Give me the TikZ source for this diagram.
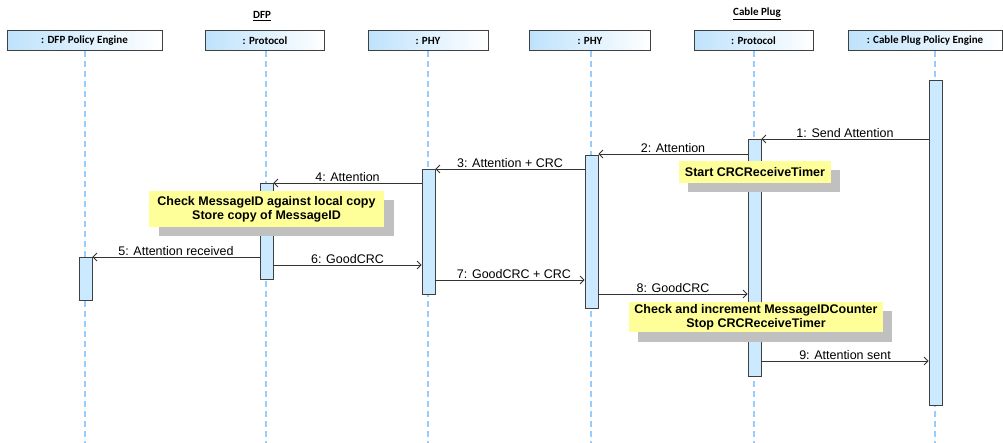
\documentclass[tikz,border=0pt]{standalone}
\usepackage{fontspec}
\setmainfont{Liberation Sans}
\newfontfamily\hdrfont{Carlito}
\usetikzlibrary{arrows.meta,calc}
\definecolor{lifeblue}{RGB}{153,204,255}
\definecolor{barfill}{RGB}{204,234,255}
\definecolor{hdrblue}{RGB}{190,226,252}
\definecolor{noteyellow}{RGB}{255,255,153}
\definecolor{shadowgray}{RGB}{192,192,192}
\tikzset{
  hdr/.style={draw=black!75, line width=0.9pt, left color=hdrblue, right color=white, minimum height=20pt, inner sep=0pt, font=\hdrfont\bfseries\fontsize{11}{13}\selectfont},
  life/.style={lifeblue, line width=1.5pt, dash pattern=on 6pt off 4pt},
  bar/.style={draw=black!75, fill=barfill, line width=0.8pt, minimum width=13pt, inner sep=0pt},
  msg/.style={draw=black!80, line width=0.8pt, -{Straight Barb[length=4pt,width=8pt]}},
  lbl/.style={font=\fontsize{12.5}{14}\selectfont, above, inner sep=1pt},
  notebox/.style={fill=noteyellow, inner sep=0pt, font=\bfseries\fontsize{12.5}{14}\selectfont, align=center},
  shadowbox/.style={fill=shadowgray, inner sep=0pt},
  grp/.style={font=\hdrfont\bfseries\fontsize{11}{13}\selectfont}
}
\begin{document}
\begin{tikzpicture}[x=1pt,y=-1pt]
\useasboundingbox (0,0) rectangle (1003,443);
% group titles
\node[grp] (gdfp) at (262,16) {\underline{DFP}};
\node[grp] (gcable) at (757,14) {\underline{Cable Plug}};
% lifelines
\foreach \n/\x in {a/85,b/266,c/428,d/591,e/754,f/935}{
  \coordinate (top\n) at (\x,51);
  \coordinate (bot\n) at (\x,443);
  \draw[life] (top\n) -- (bot\n);
}
% headers
\node[hdr, minimum width=155pt] (ha) at (84.5,40.5) {: DFP Policy Engine};
\node[hdr, minimum width=119pt] (hb) at (265,40.5) {: Protocol};
\node[hdr, minimum width=120pt] (hc) at (428,40.5) {: PHY};
\node[hdr, minimum width=121pt] (hd) at (590,40.5) {: PHY};
\node[hdr, minimum width=119pt] (he) at (753.5,40.5) {: Protocol};
\node[hdr, minimum width=154pt] (hf) at (925,40.5) {: Cable Plug Policy Engine};
% activation bars
\node[bar, minimum height=325pt] (bf) at (935.5,242.5) {};
\node[bar, minimum height=237pt] (be) at (754.5,257.5) {};
\node[bar, minimum height=153pt] (bd) at (591.5,231.5) {};
\node[bar, minimum height=125pt] (bc) at (428.5,231.5) {};
\node[bar, minimum height=96pt] (bb) at (266.5,231) {};
\node[bar, minimum height=43pt] (ba) at (85.5,278.5) {};
% messages
\draw[msg] (bf.west |- 0,139) -- node[lbl]{1: Send Attention} (be.east |- 0,139);
\draw[msg] (be.west |- 0,154) -- node[lbl]{2: Attention} (bd.east |- 0,154);
\draw[msg] (bd.west |- 0,169) -- node[lbl]{3: Attention + CRC} (bc.east |- 0,169);
\draw[msg] (bc.west |- 0,183) -- node[lbl]{4: Attention} (bb.east |- 0,183);
\draw[msg] (bb.west |- 0,257) -- node[lbl]{5: Attention received} (ba.east |- 0,257);
\draw[msg] (bb.east |- 0,265) -- node[lbl]{6: GoodCRC} (bc.west |- 0,265);
\draw[msg] (bc.east |- 0,280) -- node[lbl, xshift=4pt]{7: GoodCRC + CRC} (bd.west |- 0,280);
\draw[msg] (bd.east |- 0,294) -- node[lbl]{8: GoodCRC} (be.west |- 0,294);
\draw[msg] (be.east |- 0,361) -- node[lbl]{9: Attention sent} (bf.west |- 0,361);
% notes
\node[shadowbox, minimum width=152pt, minimum height=22pt] (s1) at (764,181) {};
\node[notebox, minimum width=152pt, minimum height=22pt] (n1) at (755,172) {Start CRCReceiveTimer};
\node[shadowbox, minimum width=235pt, minimum height=36pt] (s2) at (276,218) {};
\node[notebox, minimum width=235pt, minimum height=36pt] (n2) at (266.5,209) {Check MessageID against local copy\\Store copy of MessageID};
\node[shadowbox, minimum width=254pt, minimum height=30pt] (s3) at (765,326.5) {};
\node[notebox, minimum width=254pt, minimum height=30pt] (n3) at (756,317) {Check and increment MessageIDCounter\\Stop CRCReceiveTimer};
\end{tikzpicture}
\end{document}
